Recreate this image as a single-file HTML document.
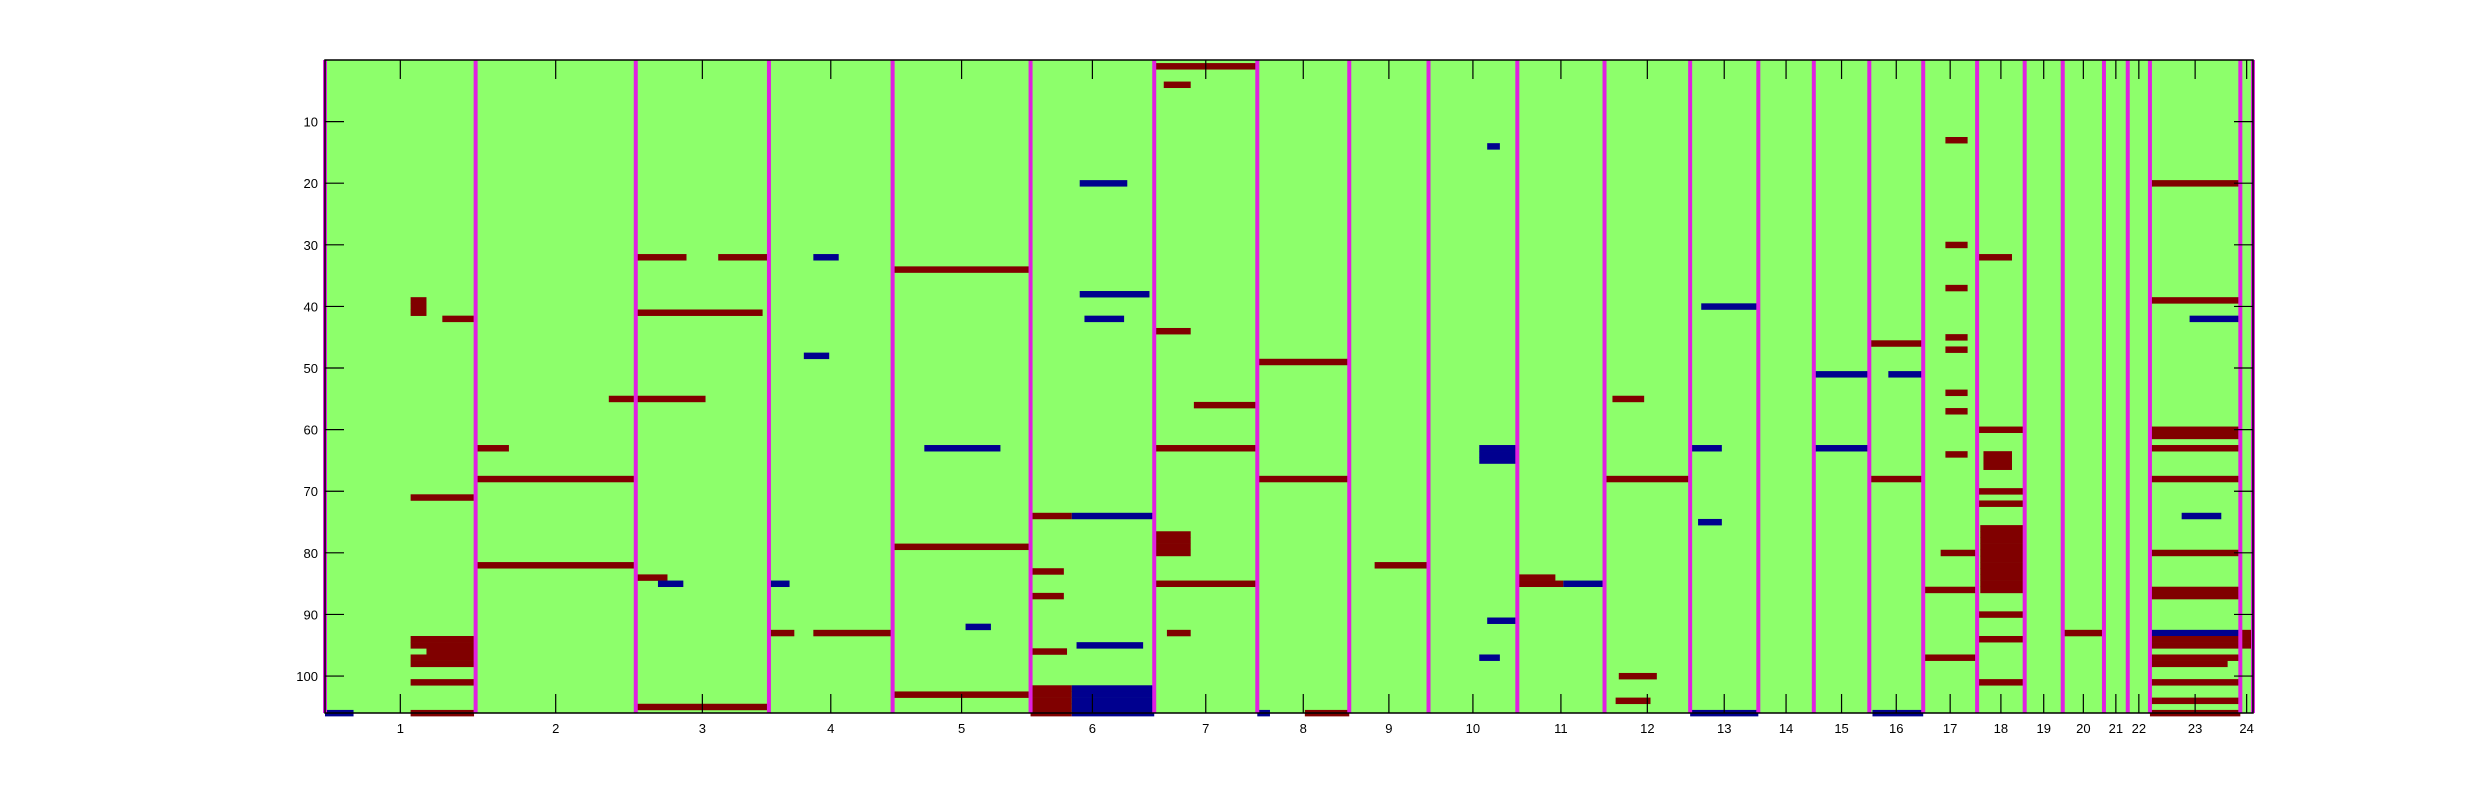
<!DOCTYPE html>
<html><head><meta charset="utf-8"><style>
body{margin:0;background:#fff;}
svg{display:block;font-family:"Liberation Sans",sans-serif;}
</style></head><body>
<svg id="chart" width="2489" height="801" viewBox="0 0 2489 801">
<rect width="2489" height="801" fill="#fff"/>
<g id="plot"></g>
</svg>
<script>
// group boundaries in feature-column units (0..1216)
const groupBounds = [0,95,196,280,358,445,523,588,646,696,752,807,861,904,939,974,1008,1042,1072,1096,1122,1137,1151,1208,1216];
const groupLabels = ["1","2","3","4","5","6","7","8","9","10","11","12","13","14","15","16","17","18","19","20","21","22","23","24"];
const yTicks = [10,20,30,40,50,60,70,80,90,100];
const nRows = 106;
// segments: row, col start, col end, type (1=high/red, 2=low/blue)
const segRows = [94,95,96,97,98,101,106,71,42,39,40,41,106,68,82,63,55,41,32,32,55,105,84,85,93,93,32,48,85,79,103,63,92,34,102,103,104,105,106,102,103,104,105,106,74,74,96,95,38,42,20,83,87,63,85,56,77,78,79,80,1,4,44,93,49,68,106,106,82,64,63,65,91,97,14,85,85,84,68,104,100,55,40,106,63,75,51,63,68,46,51,106,86,97,80,76,77,78,79,80,81,82,83,84,85,86,64,65,66,60,70,72,90,94,101,32,93,93,94,95,97,98,60,63,68,80,87,101,104,106,20,42,74,86,93,95,30,13,37,45,54,64,47,57,39,61];
const segStart = [54,54,64,54,54,54,54,54,74,54,54,54,0,95,95,95,179,196,196,248,196,196,196,210,280,308,308,302,280,358,358,378,404,358,445,445,445,445,445,471,471,471,471,471,445,471,445,474,476,479,476,445,445,523,523,548,523,523,523,523,523,529,523,531,588,588,588,618,662,728,728,728,733,728,733,752,781,752,807,814,816,812,868,861,861,866,939,939,974,974,986,976,1008,1008,1019,1044,1044,1044,1044,1044,1044,1044,1044,1044,1044,1044,1046,1046,1046,1042,1042,1042,1042,1042,1042,1042,1096,1151,1151,1151,1151,1151,1151,1151,1151,1151,1151,1151,1151,1151,1151,1176,1171,1151,1208,1208,1022,1022,1022,1022,1022,1022,1022,1022,1151,1151];
const segEnd = [94,94,94,94,94,94,94,94,94,64,64,64,18,196,196,116,196,276,228,280,240,280,216,226,296,358,324,318,293,445,445,426,420,444,471,471,471,471,471,523,523,523,523,523,471,523,468,516,520,504,506,466,466,588,588,588,546,546,546,546,588,546,546,546,646,646,596,646,696,751,751,751,752,741,741,781,807,776,861,836,840,832,904,904,881,881,974,974,1008,1008,1008,1008,1042,1042,1042,1072,1072,1072,1072,1072,1072,1072,1072,1072,1072,1072,1064,1064,1064,1072,1072,1072,1072,1072,1072,1064,1122,1208,1216,1208,1208,1200,1208,1208,1208,1208,1208,1208,1208,1208,1208,1208,1196,1208,1216,1216,1036,1036,1036,1036,1036,1036,1036,1036,1208,1208];
const segType = [1,1,1,1,1,1,1,1,1,1,1,1,2,1,1,1,1,1,1,1,1,1,1,2,1,1,2,2,2,1,1,2,2,1,1,1,1,1,1,2,2,2,2,2,1,2,1,2,2,2,2,1,1,1,1,1,1,1,1,1,1,1,1,1,1,1,2,1,1,2,2,2,2,2,2,1,2,1,1,1,1,1,2,2,2,2,2,2,1,1,2,2,1,1,1,1,1,1,1,1,1,1,1,1,1,1,1,1,1,1,1,1,1,1,1,1,1,2,1,1,1,1,1,1,1,1,1,1,1,1,1,2,2,1,1,1,1,1,1,1,1,1,1,1,1,1];

const X0=325, X1=2253, Y0=60, Y1=713, NCOL=1216;
const xs = c => X0 + (c/NCOL)*(X1-X0);
const ys = r => Y0 + (r-0.5)*(Y1-Y0)/nRows;
const rowH = (Y1-Y0)/nRows;
const NS='http://www.w3.org/2000/svg';
const g=document.getElementById('plot');
function mk(tag,attrs){const e=document.createElementNS(NS,tag);for(const k in attrs)e.setAttribute(k,attrs[k]);g.appendChild(e);return e;}

const bg=mk('rect',{x:X0,y:Y0,width:X1-X0,height:Y1-Y0,fill:'#8dff6b'});



for(let i=0;i<segRows.length;i++){
  const r=mk('rect',{x:xs(segStart[i]),y:ys(segRows[i]),width:Math.max(2,xs(segEnd[i])-xs(segStart[i])),height:rowH+0.3,fill:segType[i]===1?'#800000':'#00008f'});
  
  
}
// group separators
for(let i=0;i<groupBounds.length;i++){
  const x=xs(groupBounds[i]);
  const l=mk('line',{x1:x,x2:x,y1:Y0,y2:Y1,stroke:'#e020e0','stroke-width':4});
  
  
}
// frame
const fr=mk('rect',{x:X0,y:Y0,width:X1-X0,height:Y1-Y0,fill:'none',stroke:'#000','stroke-width':1.5});


// x ticks and labels
for(let i=0;i<groupLabels.length;i++){
  const c=(groupBounds[i]+groupBounds[i+1])/2, x=xs(c);
  const t1=mk('line',{x1:x,x2:x,y1:Y1,y2:Y1-19,stroke:'#000','stroke-width':1.2});
  
  
  const t2=mk('line',{x1:x,x2:x,y1:Y0,y2:Y0+19,stroke:'#000','stroke-width':1.2});
  
  
  const tx=mk('text',{x:x,y:733,'text-anchor':'middle','font-size':13,fill:'#000'});
  tx.textContent=groupLabels[i];
  
  
}
// y ticks and labels
for(const v of yTicks){
  const y=ys(v)+rowH/2;
  const t1=mk('line',{x1:X0,x2:X0+19,y1:y,y2:y,stroke:'#000','stroke-width':1.2});
  
  
  const t2=mk('line',{x1:X1,x2:X1-19,y1:y,y2:y,stroke:'#000','stroke-width':1.2});
  
  
  const tx=mk('text',{x:X0-7,y:y+5,'text-anchor':'end','font-size':13,fill:'#000'});
  tx.textContent=v;
  
  
}
</script>
</body></html>
